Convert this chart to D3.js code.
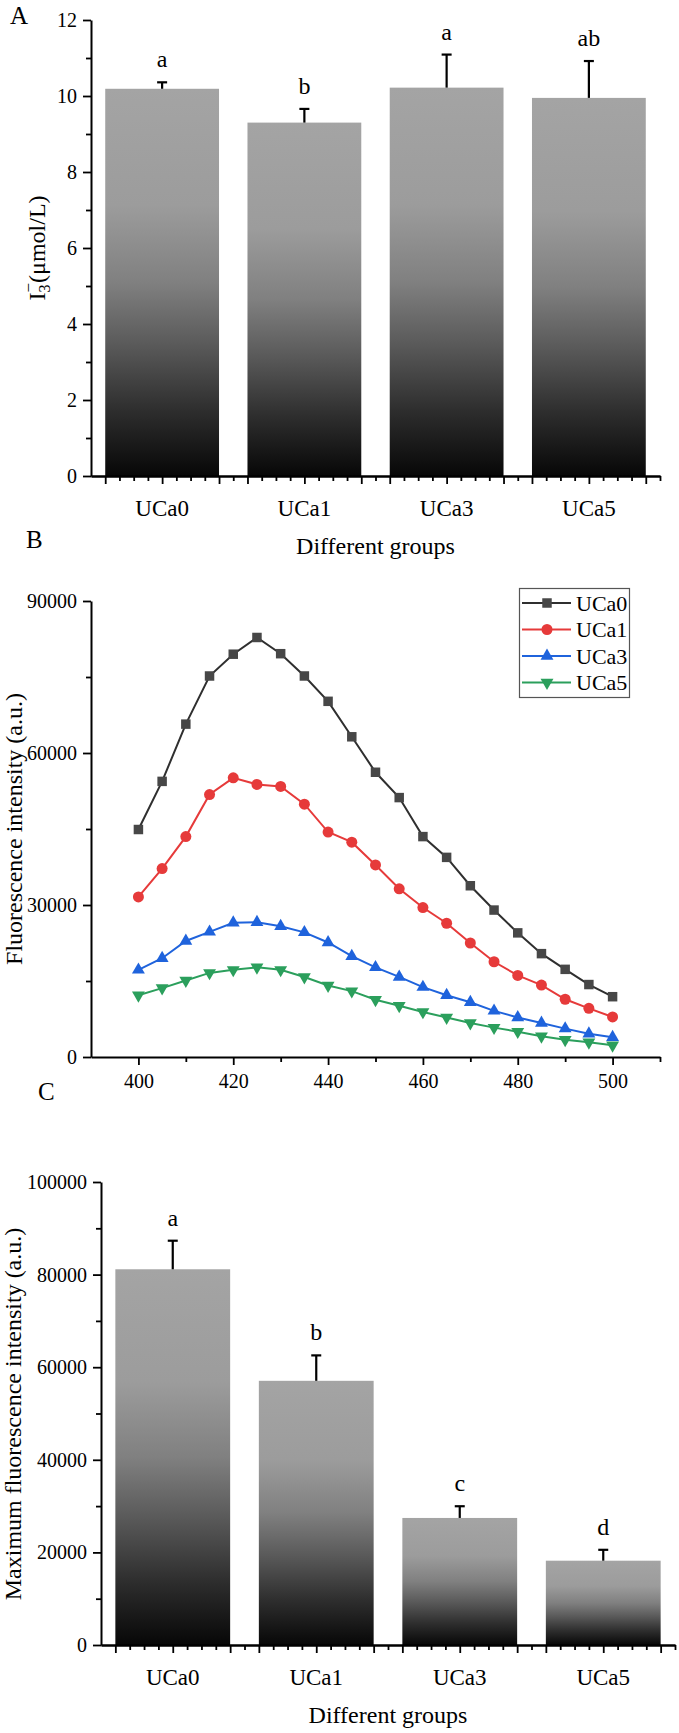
<!DOCTYPE html>
<html>
<head>
<meta charset="utf-8">
<script src="https://cdn.jsdelivr.net/npm/d3@7"></script>
<style>
  body { margin: 0; background: #fff; }
  svg { display: block; font-family: "Times New Roman", "Liberation Serif", serif; }
  .domain { stroke: #000; stroke-width: 2; }
  .tick line { stroke: #000; stroke-width: 1.8; }
</style>
</head>
<body>
<svg width="679" height="1733"></svg>
<script>
// panel A: I3- content
var groups = ["UCa0", "UCa1", "UCa3", "UCa5"];
var i3Mean = [10.19, 9.30, 10.22, 9.95];
var i3Err = [0.17, 0.36, 0.87, 0.97];
var i3Letters = ["a", "b", "a", "ab"];

// panel B: emission spectra
var wavelengths = [400, 405, 410, 415, 420, 425, 430, 435, 440, 445, 450,
                   455, 460, 465, 470, 475, 480, 485, 490, 495, 500];
var uca0 = [44900, 54400, 65700, 75200, 79500, 82800, 79600, 75200, 70200, 63200, 56200,
            51200, 43500, 39400, 33800, 29000, 24500, 20400, 17300, 14300, 11900];
var uca1 = [31600, 37200, 43500, 51800, 55100, 53800, 53400, 49900, 44400, 42400, 37900,
            33200, 29500, 26400, 22500, 18800, 16100, 14200, 11400, 9600, 7900];
var uca3 = [17200, 19500, 22900, 24700, 26500, 26600, 25800, 24600, 22600, 19900, 17700,
            15800, 13800, 12200, 10800, 9100, 7800, 6700, 5600, 4600, 3900];
var uca5 = [12200, 13600, 15100, 16600, 17200, 17700, 17200, 15800, 14100, 13000, 11300,
            10100, 8900, 7800, 6700, 5800, 5000, 4100, 3400, 2900, 2300];
var seriesNames = ["UCa0", "UCa1", "UCa3", "UCa5"];
var seriesColors = ["#2f2f2f", "#e63a3a", "#1f63dc", "#2b9f5c"];
var markerFill = ["#474747", "#e63a3a", "#1f63dc", "#2b9f5c"];

// panel C: maximum fluorescence
var maxMean = [81150, 57060, 27440, 18210];
var maxErr = [6170, 5490, 2530, 2350];
var maxLetters = ["a", "b", "c", "d"];

var svg = d3.select("svg");
var plain = d3.format("d");

var defs = svg.append("defs");
var grad = defs.append("linearGradient")
    .attr("id", "barGrad")
    .attr("x1", 0).attr("y1", 0).attr("x2", 0).attr("y2", 1);
[[0, "#a4a4a4"], [0.3, "#9c9c9c"], [0.5, "#808080"], [0.66, "#5a5a5a"],
 [0.83, "#2e2e2e"], [1, "#070707"]].forEach(function(s) {
  grad.append("stop").attr("offset", s[0]).attr("stop-color", s[1]);
});

function panelLabel(txt, x, y) {
  svg.append("text").attr("x", x).attr("y", y)
      .style("font-size", "25px").text(txt);
}

// strip d3's default axis font so the serif face is inherited
function serifAxis(sel, size) {
  sel.attr("font-family", null).attr("font-size", null);
  sel.selectAll("text").style("font-size", size).attr("fill", "#000");
}

// bar panel with minor ticks on the category axis
function barPanel(opt) {
  var g = svg.append("g");
  var x = d3.scaleBand().domain(groups).range(opt.xr).paddingInner(0.2).paddingOuter(0.1);
  var y = d3.scaleLinear().domain(opt.yd).range(opt.yr);

  g.selectAll(".bar")
      .data(opt.mean)
      .enter().append("rect")
      .attr("class", "bar")
      .attr("x", function(d, i) { return x(groups[i]); })
      .attr("y", function(d) { return y(d); })
      .attr("width", x.bandwidth())
      .attr("height", function(d) { return y(0) - y(d); })
      .attr("fill", "url(#barGrad)");

  // error bars (upper only)
  var eb = g.selectAll(".err")
      .data(opt.mean)
      .enter().append("g")
      .attr("class", "err")
      .attr("stroke", "#000")
      .attr("stroke-width", 2.2);
  eb.append("line")
      .attr("x1", function(d, i) { return x(groups[i]) + x.bandwidth() / 2; })
      .attr("x2", function(d, i) { return x(groups[i]) + x.bandwidth() / 2; })
      .attr("y1", function(d) { return y(d); })
      .attr("y2", function(d, i) { return y(d + opt.err[i]); });
  eb.append("line")
      .attr("x1", function(d, i) { return x(groups[i]) + x.bandwidth() / 2 - 5; })
      .attr("x2", function(d, i) { return x(groups[i]) + x.bandwidth() / 2 + 5; })
      .attr("y1", function(d, i) { return y(d + opt.err[i]); })
      .attr("y2", function(d, i) { return y(d + opt.err[i]); });

  g.selectAll(".sig")
      .data(opt.letters)
      .enter().append("text")
      .attr("class", "sig")
      .attr("x", function(d, i) { return x(groups[i]) + x.bandwidth() / 2; })
      .attr("y", function(d, i) { return y(opt.mean[i] + opt.err[i]) - 15; })
      .attr("text-anchor", "middle")
      .style("font-size", "24px")
      .text(function(d) { return d; });

  // y axis: major + minor
  g.append("g")
      .attr("transform", "translate(" + opt.xr[0] + ",0)")
      .call(d3.axisLeft(y).tickValues(opt.minor).tickSize(5).tickSizeOuter(0).tickFormat(""))
      .select(".domain").remove();
  g.append("g")
      .attr("transform", "translate(" + opt.xr[0] + ",0)")
      .call(d3.axisLeft(y).tickValues(opt.major).tickSize(8).tickSizeOuter(0).tickPadding(6).tickFormat(plain))
      .call(serifAxis, "20px");

  // x axis ticks every tenth of a category step
  var t = d3.scaleLinear().domain([0, 40]).range(opt.xr);
  var allT = d3.range(1, 41);
  g.append("g")
      .attr("transform", "translate(0," + y(0) + ")")
      .call(d3.axisBottom(t).tickValues(allT.filter(function(k) { var m = k % 10; return m !== 1 && m !== 5 && m !== 9; }))
            .tickSize(5).tickSizeOuter(0).tickFormat(""));
  g.append("g")
      .attr("transform", "translate(0," + y(0) + ")")
      .call(d3.axisBottom(t).tickValues(allT.filter(function(k) { var m = k % 10; return m === 1 || m === 5 || m === 9; }))
            .tickSize(8).tickSizeOuter(0).tickFormat(""));
  g.append("g")
      .attr("transform", "translate(0," + y(0) + ")")
      .call(d3.axisBottom(x).tickSize(0).tickPadding(24))
      .call(function(a) { a.select(".domain").remove(); })
      .call(serifAxis, "23px");

  g.append("text")
      .attr("x", (opt.xr[0] + opt.xr[1]) / 2)
      .attr("y", y(0) + 78)
      .attr("text-anchor", "middle")
      .style("font-size", "24px")
      .text("Different groups");
  return {g: g, y: y};
}

// ---- Panel A
panelLabel("A", 10, 24);
barPanel({
  xr: [91, 660], yd: [0, 12], yr: [476, 20],
  mean: i3Mean, err: i3Err, letters: i3Letters,
  major: [0, 2, 4, 6, 8, 10, 12], minor: [1, 3, 5, 7, 9, 11]
});
var ta = svg.append("text")
    .attr("transform", "translate(37,248) rotate(-90)")
    .attr("text-anchor", "middle")
    .attr("dy", "0.35em")
    .style("font-size", "24px");
ta.append("tspan").text("I");
ta.append("tspan").attr("dy", 5).style("font-size", "16px").text("3");
ta.append("tspan").attr("dx", -8).attr("dy", -16).style("font-size", "17px").text("\u2212");
ta.append("tspan").attr("dy", 11).text("(μmol/L)");

// ---- Panel B
panelLabel("B", 26, 548);
var gb = svg.append("g");
var xb = d3.scaleLinear().domain([390, 510]).range([91, 660]);
var yb = d3.scaleLinear().domain([0, 90000]).range([1057, 601]);

gb.append("g")
    .attr("transform", "translate(91,0)")
    .call(d3.axisLeft(yb).tickValues([15000, 45000, 75000]).tickSize(5).tickFormat(""))
    .select(".domain").remove();
gb.append("g")
    .attr("transform", "translate(91,0)")
    .call(d3.axisLeft(yb).tickValues([0, 30000, 60000, 90000]).tickSize(8).tickSizeOuter(0).tickPadding(6).tickFormat(plain))
    .call(serifAxis, "20px");
gb.append("g")
    .attr("transform", "translate(0,1057)")
    .call(d3.axisBottom(xb).tickValues([410, 430, 450, 470, 490, 510]).tickSize(5).tickFormat(""))
    .select(".domain").remove();
gb.append("g")
    .attr("transform", "translate(0,1057)")
    .call(d3.axisBottom(xb).tickValues([400, 420, 440, 460, 480, 500]).tickSize(8).tickSizeOuter(0).tickPadding(9).tickFormat(plain))
    .call(serifAxis, "20px");

gb.append("text")
    .attr("transform", "translate(14,829) rotate(-90)")
    .attr("text-anchor", "middle")
    .attr("dy", "0.35em")
    .style("font-size", "24px")
    .text("Fluorescence intensity (a.u.)");

var spectra = [uca0, uca1, uca3, uca5];
var symbols = [
  d3.symbol().type(d3.symbolSquare).size(90),
  d3.symbol().type(d3.symbolCircle).size(95),
  d3.symbol().type(d3.symbolTriangle).size(72),
  d3.symbol().type(d3.symbolTriangle).size(72)
];
var rot = [0, 0, 0, 180];

var line = d3.line()
    .x(function(d, i) { return xb(wavelengths[i]); })
    .y(function(d) { return yb(d); });

spectra.forEach(function(s, k) {
  gb.append("path")
      .attr("d", line(s))
      .attr("fill", "none")
      .attr("stroke", seriesColors[k])
      .attr("stroke-width", 2);
  gb.selectAll(".m" + k)
      .data(s)
      .enter().append("path")
      .attr("class", "m" + k)
      .attr("transform", function(d, i) { return "translate(" + xb(wavelengths[i]) + "," + yb(d) + ") rotate(" + rot[k] + ")"; })
      .attr("d", symbols[k])
      .attr("fill", markerFill[k]);
});

// legend
var lg = gb.append("g");
lg.append("rect")
    .attr("x", 519.5).attr("y", 588.5).attr("width", 110).attr("height", 109)
    .attr("fill", "#fff").attr("stroke", "#555").attr("stroke-width", 1.2);
seriesNames.forEach(function(n, k) {
  var ly = 603 + k * 26.5;
  lg.append("line").attr("x1", 522).attr("x2", 571).attr("y1", ly).attr("y2", ly)
      .attr("stroke", seriesColors[k]).attr("stroke-width", 2);
  lg.append("path").attr("d", symbols[k])
      .attr("transform", "translate(547," + ly + ") rotate(" + rot[k] + ")")
      .attr("fill", markerFill[k]);
  lg.append("text").attr("x", 576).attr("y", ly).attr("dy", "0.35em")
      .style("font-size", "22px").text(n);
});

// ---- Panel C
panelLabel("C", 38, 1100);
barPanel({
  xr: [101, 675], yd: [0, 100000], yr: [1645, 1182],
  mean: maxMean, err: maxErr, letters: maxLetters,
  major: [0, 20000, 40000, 60000, 80000, 100000],
  minor: [10000, 30000, 50000, 70000, 90000]
});
svg.append("text")
    .attr("transform", "translate(13,1414) rotate(-90)")
    .attr("text-anchor", "middle")
    .attr("dy", "0.35em")
    .style("font-size", "24px")
    .text("Maximum fluorescence intensity (a.u.)");
</script>
</body>
</html>
